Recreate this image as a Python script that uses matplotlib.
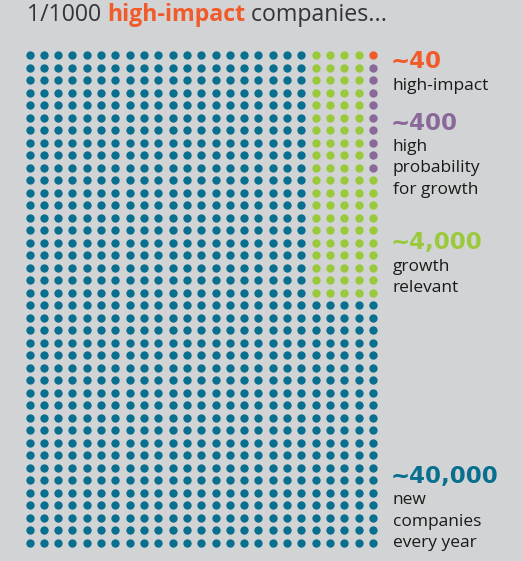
import numpy as np
import matplotlib
matplotlib.use('Agg')
from matplotlib import pyplot as plt

# each dot = 40 companies, 1000 dots in a 40 x 25 grid
labels = [['high-impact'], ['high', 'probability', 'for growth'],
          ['growth', 'relevant'], ['new', 'companies', 'every year']]
values = [40, 400, 4000, 40000]
value_text = ['~40', '~400', '~4,000', '~40,000']
colors = ['#f15a29', '#8a6899', '#9bc93c', '#086f8e']
block_cols = [1, 1, 5, 25]   # width of each nested block (top-right corner)
per_dot = 40
n_rows, n_cols = 40, 25

bg = '#d1d3d4'
fig = plt.figure(figsize=(5.23, 5.61), dpi=100, facecolor=bg)
ax = fig.add_axes([0, 0, 1, 1], facecolor=bg)

# figure pixel geometry -> grid units
x0, dx = 29.5, 14.31
y0, dy = 55.0, 12.51
ax.set_xlim(-x0 / dx, (523 - x0) / dx)
ax.set_ylim((561 - y0) / dy, -y0 / dy)
ax.axis('off')

# assign each dot to the smallest block containing it
cat = np.full((n_rows, n_cols), len(values) - 1)
for k in range(len(values) - 2, -1, -1):
    w = block_cols[k]
    h = values[k] // per_dot // w
    cat[:h, n_cols - w:] = np.where(cat[:h, n_cols - w:] > k, k, cat[:h, n_cols - w:])

rr, cc = np.mgrid[0:n_rows, 0:n_cols]
for k in range(len(values)):
    m = cat == k
    ax.scatter(cc[m], rr[m], s=36, color=colors[k], linewidths=0)

# text, positioned in pixels
def px(x, y):
    return x / 523, 1 - y / 561

font = 'Open Sans'
dark = '#333338'
tx, ty = px(27, 15)
t1 = fig.text(tx, ty, '1/1000 ', fontsize=16.7, color=dark, family=font,
              va='center', ha='left')
fig.canvas.draw()
bb = t1.get_window_extent()
t2 = fig.text(bb.x1 / 523, ty, 'high-impact', fontsize=16.7, color=colors[0], family=font,
              va='center', ha='left', fontweight='bold')
fig.canvas.draw()
bb = t2.get_window_extent()
fig.text(bb.x1 / 523, ty, ' companies...', fontsize=16.7, color=dark, family=font,
         va='center', ha='left')

label_y = [62, 123, 243, 476]
for k in range(len(values)):
    fig.text(*px(391, label_y[k]), value_text[k], fontsize=16.5, fontweight='bold',
             color=colors[k], family='DejaVu Sans', va='center', ha='left')
    for i, line in enumerate(labels[k]):
        fig.text(*px(393, label_y[k] + 24 + 21.5 * i), line, fontsize=12.5,
                 color='#1a1a1a', family=font, va='center', ha='left')

fig.savefig('out.png', dpi=100, facecolor=bg)
